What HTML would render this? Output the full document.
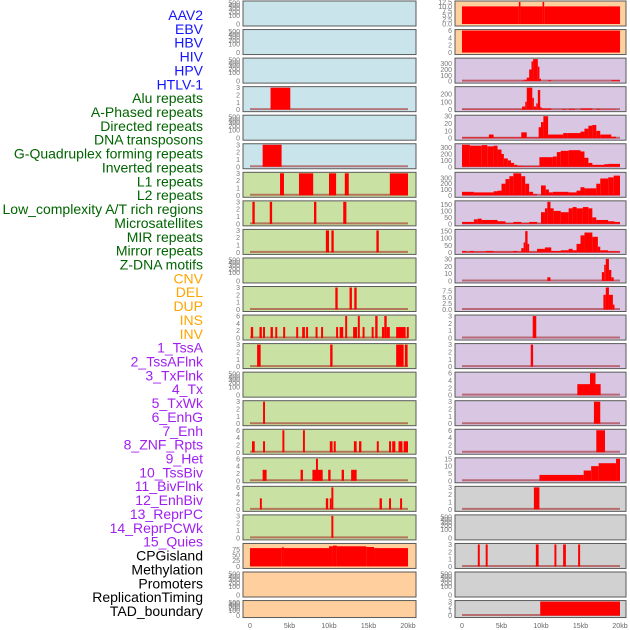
<!DOCTYPE html>
<html><head><meta charset="utf-8"><style>
html,body{margin:0;padding:0;background:#fff;width:630px;height:630px;overflow:hidden}
svg{display:block}
</style></head><body>
<svg id="chart" width="630" height="630" viewBox="0 0 630 630" xmlns="http://www.w3.org/2000/svg"></svg>
<script>
// ---- labels ----
const trackLabels = ["AAV2","EBV","HBV","HIV","HPV","HTLV-1","Alu repeats","A-Phased repeats","Directed repeats","DNA transposons","G-Quadruplex forming repeats","Inverted repeats","L1 repeats","L2 repeats","Low_complexity A/T rich regions","Microsatellites","MIR repeats","Mirror repeats","Z-DNA motifs","CNV","DEL","DUP","INS","INV","1_TssA","2_TssAFlnk","3_TxFlnk","4_Tx","5_TxWk","6_EnhG","7_Enh","8_ZNF_Rpts","9_Het","10_TssBiv","11_BivFlnk","12_EnhBiv","13_ReprPC","14_ReprPCWk","15_Quies","CPGisland","Methylation","Promoters","ReplicationTiming","TAD_boundary"];
const labelGroups = ["virus","virus","virus","virus","virus","virus","rep","rep","rep","rep","rep","rep","rep","rep","rep","rep","rep","rep","rep","sv","sv","sv","sv","sv","chrom","chrom","chrom","chrom","chrom","chrom","chrom","chrom","chrom","chrom","chrom","chrom","chrom","chrom","chrom","other","other","other","other","other"];
const xTickLabels = ["0","5kb","10kb","15kb","20kb"];
const xTickValues = [0,5,10,15,20];

// ---- data: segments [startKb, endKb, value] ----
const L3 = [[2.6,5.1,3]];
const L5 = [[1.6,4.0,3]];
const L6 = [[3.8,4.3,3],[6.2,8.0,3],[10.0,10.9,3],[12.0,12.5,3],[17.7,20.0,3]];
const L7 = [[0.3,0.6,3],[2.5,2.8,3],[8.1,8.4,3],[11.8,12.2,3]];
const L8 = [[9.6,10.0,3],[10.3,10.6,3],[16.0,16.3,3]];
const L10 = [[10.8,11.1,3],[12.6,12.9,3],[13.2,13.5,3]];
const L11 = [[0.1,0.4,3],[1.2,1.5,3],[1.65,1.9,3],[2.6,2.9,3],[3.2,3.45,3],[4.2,4.45,3],[5.85,6.1,3],[6.6,6.95,3],[7.1,7.35,3],[8.3,8.55,3],[9.0,9.25,3],[10.9,11.15,3],[11.35,11.8,3],[12.05,12.3,6],[13.05,13.55,3],[13.65,13.9,6],[14.25,14.5,3],[15.4,15.65,3],[15.85,16.15,6],[16.7,17.0,3],[17.0,17.3,6],[17.3,17.7,3],[18.5,19.7,3],[19.85,20.1,3]];
const L12 = [[0.9,1.35,3],[10.15,10.45,3],[18.5,19.45,3],[19.6,19.95,3]];
const L14 = [[1.65,1.9,3]];
const L15 = [[0.25,0.6,3],[1.65,1.9,3],[4.1,4.35,6],[6.7,6.95,6],[10.1,10.45,3],[10.6,10.85,3],[13.15,13.5,3],[13.8,14.1,3],[16.05,16.3,3],[17.6,17.85,3],[18.0,18.4,3],[18.8,19.3,3],[19.45,20.0,3]];
const L16 = [[1.6,2.1,3],[6.4,6.7,3],[7.9,9.2,3],[8.35,8.6,6],[9.9,10.2,3],[11.6,11.9,3],[12.8,13.5,3]];
const L17 = [[1.25,1.5,3],[9.6,9.9,3],[10.1,10.3,3],[10.3,10.55,6],[16.4,16.7,3],[17.6,17.85,3],[19.0,19.25,3]];
const L18 = [[10.3,10.55,3]];
const L19 = [[0,4,80],[4,4.3,83],[4.3,10,80],[10,10.5,88],[10.5,11,91],[11,14.7,88],[14.7,15.7,85],[15.7,20,80]];
const R0 = [[0,7.2,10],[7.2,7.4,12.5],[7.4,10.2,10],[10.2,10.4,12.5],[10.4,20,10]];
const R1 = [[0,20,6]];
const R2 = [[0,7.6,4],[7.6,7.9,10],[7.9,8.2,25],[8.2,8.5,60],[8.5,8.8,200],[8.8,9.0,340],[9.0,9.6,380],[9.6,9.8,250],[9.8,10.0,40],[10.9,11.3,15],[18.9,20,15]];
const R3 = [[0,7.6,4],[7.6,8.0,40],[8.0,8.2,100],[8.2,8.9,280],[8.9,9.1,150],[9.1,9.4,40],[9.4,9.6,80],[9.6,9.9,250],[9.9,10.0,30],[10.1,3.0+8.3,15],[12.7,13.2,8],[13.5,14.3,10],[15.0,16.5,15],[17.0,17.5,10],[17.5,19.5,4]];
const R4 = [[0,3.4,1],[3.4,4.0,5],[4.0,7.5,1],[7.5,8.2,8],[8.2,9.7,1],[9.7,10.0,15],[10.0,10.3,22],[10.3,10.9,30],[10.9,12.8,5],[12.8,13.4,7],[13.4,15.0,7],[15.0,15.5,9],[15.5,16.0,13],[16.0,16.5,17],[16.5,17.0,18],[17.0,17.5,10],[17.5,18.9,5],[18.9,19.5,2]];
const R5 = [[0,1.0,345],[1.0,2.5,330],[2.5,3.2,340],[3.2,4.0,320],[4.0,4.5,330],[4.5,5.0,270],[5.0,5.3,200],[5.3,5.8,130],[5.8,6.2,100],[6.2,6.6,60],[6.6,7.0,30],[7.0,7.5,15],[7.5,9.8,10],[9.8,11.5,150],[11.5,12.0,160],[12.0,12.5,230],[12.5,13.5,250],[13.5,15.0,260],[15.0,15.5,240],[15.5,16.0,140],[16.0,16.5,60],[16.5,18.0,30],[18.0,18.5,40],[18.5,20,45]];
const R6 = [[0,1.5,60],[1.5,4.0,50],[4.0,4.5,70],[4.5,5.0,80],[5.0,5.5,200],[5.5,6.0,280],[6.0,6.5,330],[6.5,7.5,380],[7.5,8.0,330],[8.0,8.5,200],[8.5,9.0,60],[9.0,9.5,20],[9.5,10.0,0],[10.0,10.6,170],[10.6,11.0,100],[11.0,11.5,50],[11.5,13.5,60],[13.5,14.5,50],[14.5,15.0,80],[15.0,15.5,140],[15.5,17.0,120],[17.0,17.5,200],[17.5,18.5,290],[18.5,19.2,310],[19.2,20,340]];
const R7 = [[0,1.5,15],[1.5,2.0,35],[2.0,2.5,40],[2.5,4.5,30],[4.5,5.5,20],[5.5,6.5,5],[6.5,7.5,15],[7.5,8.5,5],[8.5,9.5,15],[9.5,10.0,2],[10.0,10.5,90],[10.5,10.8,120],[10.8,11.2,170],[11.2,11.6,120],[11.6,12.5,100],[12.5,13.5,90],[13.5,14.0,120],[14.0,14.5,130],[14.5,15.3,120],[15.3,16.0,130],[16.0,16.5,120],[16.5,17.0,50],[17.0,18.5,30],[18.5,19.3,20],[19.3,20,15]];
const R8 = [[0,0.5,10],[0.5,1.0,5],[1.0,1.5,10],[1.5,3.0,5],[3.0,4.0,10],[4.0,6.5,5],[6.5,7.0,10],[7.0,7.5,5],[7.5,7.8,30],[7.8,8.0,70],[8.0,8.3,150],[8.3,8.5,60],[8.5,9.5,5],[9.5,10.5,25],[10.5,11.3,35],[11.3,12.5,10],[12.5,13.5,15],[13.5,14.0,25],[14.0,14.5,15],[14.5,15.0,60],[15.0,15.5,120],[15.5,16.5,140],[16.5,17.2,110],[17.2,17.5,40],[17.5,18.5,15],[18.5,20,8]];
const R9 = [[10.8,11.2,5],[17.7,18.0,12],[18.0,18.2,22],[18.2,18.6,30],[18.6,18.9,15],[18.9,19.2,5]];
const R10 = [[17.9,18.2,6],[18.2,18.6,9],[18.6,19.1,6],[19.1,19.3,2]];
const R11 = [[8.95,9.4,3]];
const R12 = [[8.7,9.0,3]];
const R13 = [[14.6,16.2,3],[16.2,16.9,6],[16.9,17.55,3]];
const R14 = [[16.7,17.5,3]];
const R15 = [[17.0,18.1,6]];
const R16 = [[9.8,15.4,4],[15.4,16.35,7],[16.35,17.3,10],[17.3,19.5,12],[19.5,20,15]];
const R17 = [[9.1,9.8,3]];
const R19 = [[2.0,2.25,3],[3.0,3.25,3],[9.35,9.7,3],[11.7,11.95,3],[12.8,13.15,3],[14.7,14.95,3]];
const R21 = [[9.9,20,3]];

// tick label sets
const T500 = ["0","100","200","300","400","500"];
const T3 = ["0","1","2","3"];
const T6 = ["0","2","4","6"];
const T150 = ["0","50","100","150"];
const T300 = ["0","100","200","300"];
const T200 = ["0","100","200"];
const T30 = ["0","10","20","30"];
const T15 = ["0","5","10","15"];
const T75 = ["0","25","50","75"];
const T12 = ["0.0","2.5","5.0","7.5","10.0","12.5"];
const T75b = ["0.0","2.5","5.0","7.5"];

// panel configs: [data, ticks, ymax, bg]
const leftPanels = [
 [null,T500,0,"blue"],[null,T500,0,"blue"],[null,T500,0,"blue"],[L3,T3,3,"blue"],[null,T500,0,"blue"],[L5,T3,3,"blue"],
 [L6,T3,3,"green"],[L7,T3,3,"green"],[L8,T3,3,"green"],[null,T500,0,"green"],[L10,T3,3,"green"],[L11,T6,6,"green"],[L12,T3,3,"green"],[null,T500,0,"green"],[L14,T3,3,"green"],[L15,T6,6,"green"],[L16,T6,6,"green"],[L17,T6,6,"green"],[L18,T3,3,"green"],
 [L19,T75,96,"orange"],[null,T500,0,"orange"],[null,T500,0,"orange"]];
const rightPanels = [
 [R0,T12,12.5,"orange"],[R1,T6,6,"orange"],[R2,T300,380,"purple"],[R3,T200,280,"purple"],[R4,T30,30,"purple"],[R5,T300,345,"purple"],[R6,T300,380,"purple"],[R7,T150,170,"purple"],[R8,T150,155,"purple"],[R9,T30,30,"purple"],[R10,T75b,9,"purple"],[R11,T3,3,"purple"],[R12,T3,3,"purple"],[R13,T6,6,"purple"],[R14,T3,3,"purple"],[R15,T6,6,"purple"],[R16,T15,15,"purple"],
 [R17,T3,3,"gray"],[null,T500,0,"gray"],[R19,T3,3,"gray"],[null,T500,0,"gray"],[R21,T3,3,"gray"]];

const NS="http://www.w3.org/2000/svg";
const svg=document.getElementById('chart');
const bgColors={blue:"#c9e4eb",green:"#c9e2a4",orange:"#ffd09e",purple:"#d8c6e2",gray:"#d1d1d1"};
const groupColors={virus:"#1414ff",rep:"#006400",sv:"#ffa500",chrom:"#a020f0",other:"#000000"};
function mk(tag,attrs,parent){const e=document.createElementNS(NS,tag);for(const k in attrs)e.setAttribute(k,attrs[k]);(parent||svg).appendChild(e);return e;}

// labels
trackLabels.forEach((t,i)=>{
 const e=mk('text',{x:203,y:15+i*13.86+5,'text-anchor':'end','font-family':'Liberation Sans, sans-serif','font-size':'14',fill:groupColors[labelGroups[i]]});
 e.textContent=t;
 
 
});

function drawPanel(cfg,col,row){
 const [data,ticks,ymax,bg]=cfg;
 const x0=col===0?243:455, w=col===0?173:171;
 const y0=row*28.55+1, h=row===21?17:25;
 const kx=v=>x0+7+v*7.9;
 const top=y0+1, bot=y0+h-2;
 const g=mk('g',{});
 
 
 const r=mk('rect',{x:x0,y:y0,width:w,height:h,fill:bgColors[bg],stroke:'#5a5a5a','stroke-width':1},g);
 
 
 // ticks
 const n=ticks.length;
 ticks.forEach((t,i)=>{
  let ty;
  if(ymax===0){const fr=[0,0.4,0.58,0.74,0.87,1.0][i]; ty=bot-fr*(bot-top-1);}
  else { const v=parseFloat(t); ty=bot-(v/ymax)*(bot-top); }
  const e=mk('text',{x:x0-3,y:ty+2.5,'text-anchor':'end','font-family':'Liberation Sans, sans-serif','font-size':'7',fill:'#777'},g);
  e.textContent=t;
  
  
 });
 if(!data) return;
 const ys=v=>bot-(v/ymax)*(bot-top);
 if(bg!=="orange"){
  const b=mk('line',{x1:kx(0),x2:kx(20),y1:bot-0.5,y2:bot-0.5,stroke:'rgba(160,30,30,0.55)','stroke-width':2},g);
  
  
 }
 data.forEach(s=>{
  const a=kx(s[0]),b=kx(Math.min(s[1],20.3));
  const yy=ys(s[2]);
  const e=mk('rect',{x:a,y:yy,width:Math.max(b-a,1.5),height:Math.max(bot-yy,0),fill:'#ff0000'},g);
  
  
 });
}
leftPanels.forEach((c,i)=>drawPanel(c,0,i));
rightPanels.forEach((c,i)=>drawPanel(c,1,i));

// x axis
[0,1].forEach(col=>{
 const x0=col===0?243:455;
 xTickValues.forEach((v,i)=>{
  const e=mk('text',{x:x0+7+v*7.9,y:628,'text-anchor':'middle','font-family':'Liberation Sans, sans-serif','font-size':'7',fill:'#666'});
  e.textContent=xTickLabels[i];
  
  
 });
});
</script>
</body></html>
